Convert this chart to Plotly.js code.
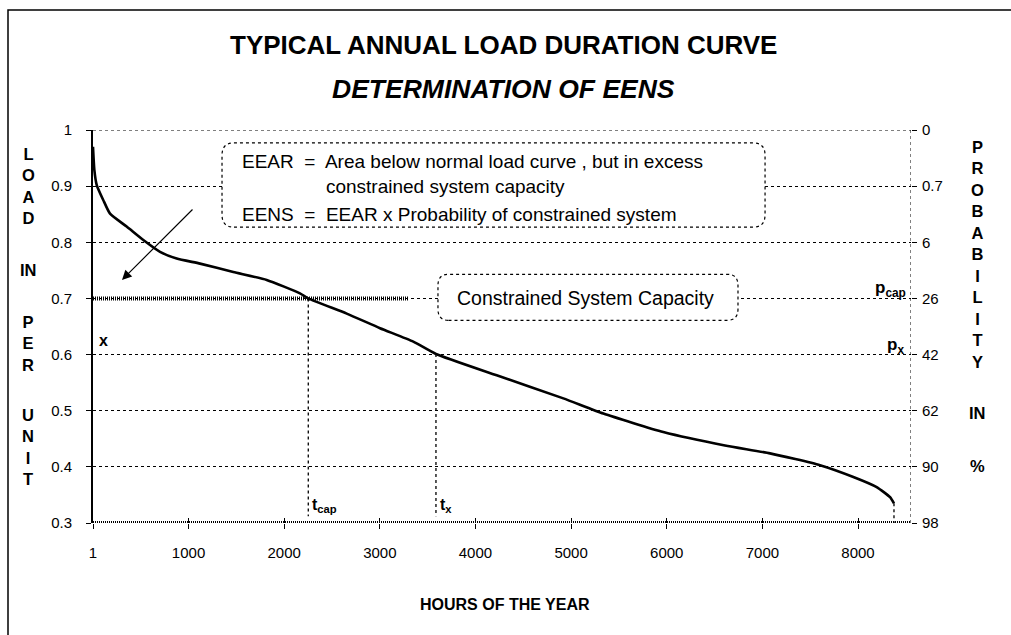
<!DOCTYPE html>
<html>
<head>
<meta charset="utf-8">
<script src="https://cdn.plot.ly/plotly-3.0.1.min.js"></script>
<style>html,body{margin:0;padding:0;background:#fff;}#chart{width:1011px;height:635px;}</style>
</head>
<body>
<div id="chart"></div>
<script>
// ---- data ----
const hours = [1, 15, 40, 109, 179, 353, 527, 702, 876, 1120, 1468, 1817, 2165, 2252, 2654, 3002, 3350, 3587, 4222, 4919, 5337, 5964, 6609, 7080, 7603, 7951, 8195, 8335, 8376];
const load  = [0.97, 0.929, 0.902, 0.875, 0.851, 0.828, 0.804, 0.783, 0.771, 0.762, 0.747, 0.733, 0.709, 0.700, 0.673, 0.647, 0.623, 0.601, 0.563, 0.522, 0.495, 0.462, 0.438, 0.424, 0.403, 0.382, 0.364, 0.346, 0.335];
const hourTicks = [1, 1000, 2000, 3000, 4000, 5000, 6000, 7000, 8000];
const hourLabels = ['1', '1000', '2000', '3000', '4000', '5000', '6000', '7000', '8000'];
const loadTicks = [0.3, 0.4, 0.5, 0.6, 0.7, 0.8, 0.9, 1.0];
const loadLabels = ['0.3', '0.4', '0.5', '0.6', '0.7', '0.8', '0.9', '1'];
const probLabels = ['98', '90', '62', '42', '26', '6', '0.7', '0'];
const capLoad = 0.7, xLoad = 0.6;
const tCap = 2252, tX = 3587;
const hatchEnd = 3295;
const xMax = 8554;

// ---- geometry helpers (pixels -> paper) ----
const PL = 93, PR = 911, PT = 130, PB = 523;
const fx = p => (p - PL) / (PR - PL);
const fy = p => (PB - p) / (PB - PT);
const FONT = 'Liberation Sans, Arial, sans-serif';

function rr(x0, x1, y0, y1, rx, ry) {
  return `M ${x0 + rx},${y0} L ${x1 - rx},${y0} Q ${x1},${y0} ${x1},${y0 + ry} L ${x1},${y1 - ry} Q ${x1},${y1} ${x1 - rx},${y1} L ${x0 + rx},${y1} Q ${x0},${y1} ${x0},${y1 - ry} L ${x0},${y0 + ry} Q ${x0},${y0} ${x0 + rx},${y0} Z`;
}

const traces = [
  { x: hours, y: load, type: 'scatter', mode: 'lines', line: { color: '#000', width: 2.6, shape: 'spline', smoothing: 0.5 }, hoverinfo: 'skip', showlegend: false },
  { x: [1], y: [0.3], xaxis: 'x2', yaxis: 'y', mode: 'markers', opacity: 0, hoverinfo: 'skip', showlegend: false },
  { x: [1], y: [0.3], xaxis: 'x', yaxis: 'y2', mode: 'markers', opacity: 0, hoverinfo: 'skip', showlegend: false }
];

const lastX = hours[hours.length - 1], lastY = load[load.length - 1];
const tcapY = load[hours.indexOf(tCap)], txY = load[hours.indexOf(tX)];

const shapes = [
  { type: 'line', xref: 'x', yref: 'y', x0: 1, x1: xMax, y0: 1, y1: 1, line: { color: '#000', width: 1, dash: 'dot' } },
  { type: 'line', xref: 'x', yref: 'y', x0: xMax, x1: xMax, y0: 0.3, y1: 1, line: { color: '#000', width: 1, dash: 'dot' } },
  { type: 'line', xref: 'x', yref: 'y', x0: 1, x1: xMax, y0: 0.3, y1: 0.3, line: { color: '#000', width: 4, dash: '1px,1px' } },
  { type: 'line', xref: 'x', yref: 'y', x0: 1, x1: hatchEnd, y0: capLoad, y1: capLoad, line: { color: '#000', width: 4, dash: '1px,1px' } },
  { type: 'line', xref: 'x', yref: 'y', x0: tCap, x1: tCap, y0: tcapY, y1: 0.312, line: { color: '#000', width: 1.3, dash: 'dot' } },
  { type: 'line', xref: 'x', yref: 'y', x0: tX, x1: tX, y0: txY, y1: 0.312, line: { color: '#000', width: 1.3, dash: 'dot' } },
  { type: 'line', xref: 'x', yref: 'y', x0: lastX, x1: lastX, y0: lastY, y1: 0.3, line: { color: '#000', width: 1.3, dash: 'dot' } },
  { type: 'path', xref: 'x', yref: 'y', layer: 'above', path: rr(1350, 7028, 0.827, 0.977, 125, 0.022), fillcolor: '#fff', line: { color: '#000', width: 1.2, dash: 'dot' } },
  { type: 'path', xref: 'x', yref: 'y', layer: 'above', path: rr(3608, 6745, 0.661, 0.743, 110, 0.02), fillcolor: '#fff', line: { color: '#000', width: 1.2, dash: 'dot' } },
  { type: 'rect', xref: 'paper', yref: 'paper', x0: fx(8), x1: fx(1020), y0: fy(645), y1: fy(10), line: { color: '#000', width: 1.5 }, fillcolor: 'rgba(0,0,0,0)' }
];

function ann(text, px, py, size, opts) {
  return Object.assign({ text: text, xref: 'paper', yref: 'paper', x: fx(px), y: fy(py), showarrow: false,
    xanchor: 'center', yanchor: 'middle', font: { family: FONT, size: size, color: '#000' } }, opts || {});
}

const eearText = 'EEAR  =  Area below normal load curve , but in excess<br>' +
  '<span style="color:rgba(0,0,0,0)">EEAR  =  </span>constrained system capacity';

const annotations = [
  ann('<b>TYPICAL ANNUAL LOAD DURATION CURVE</b>', 504, 45, 26),
  ann('<b><i>DETERMINATION OF EENS</i></b>', 504, 89, 26.5),
  ann('<b>HOURS OF THE YEAR</b>', 505, 604, 16),
  ann('<b>L<br>O<br>A<br>D</b>', 28, 186, 16.5),
  ann('<b>IN</b>', 28, 270, 16.5),
  ann('<b>P<br>E<br>R</b>', 28, 343, 16.5),
  ann('<b>U<br>N<br>I<br>T</b>', 28, 447, 16.5),
  ann('<b>P<br>R<br>O<br>B<br>A<br>B<br>I<br>L<br>I<br>T<br>Y</b>', 978, 254, 16.5),
  ann('<b>IN</b>', 978, 413, 16.5),
  ann('<b>%</b>', 978, 466, 16.5),
  ann(eearText, 240, 174, 19, { xanchor: 'left', align: 'left' }),
  ann('EENS  =  EEAR x Probability of constrained system', 240, 214, 19, { xanchor: 'left' }),
  ann('Constrained System Capacity', 585, 298, 19.5),
  ann('<b>x</b>', 97, 340, 16, { xanchor: 'left' }),
  ann('<b>p<sub>cap</sub></b>', 908, 289, 17, { xanchor: 'right' }),
  ann('<b>p<sub>x</sub></b>', 906, 346, 17, { xanchor: 'right' }),
  ann('<b>t<sub>cap</sub></b>', 310, 505, 16, { xanchor: 'left' }),
  ann('<b>t<sub>x</sub></b>', 438, 505, 16, { xanchor: 'left' }),
  { text: '', xref: 'x', yref: 'y', axref: 'x', ayref: 'y', x: 304, y: 0.733, ax: 1057, ay: 0.861,
    showarrow: true, arrowhead: 2, arrowsize: 1.6, arrowwidth: 1.2, arrowcolor: '#000' }
];

const layout = {
  width: 1011, height: 635,
  margin: { l: PL, r: 1011 - PR, t: PT, b: 635 - PB, pad: 0 },
  paper_bgcolor: '#fff', plot_bgcolor: '#fff',
  showlegend: false,
  font: { family: FONT, size: 15, color: '#000' },
  xaxis: { range: [1, xMax], tickvals: hourTicks, ticktext: hourLabels, showgrid: false, zeroline: false, showline: false,
    ticks: 'outside', ticklen: 5, tickcolor: '#000', tickwidth: 1, ticklabelstandoff: 11, tickfont: { family: FONT, size: 15 } },
  xaxis2: { overlaying: 'x', range: [1, xMax], tickvals: hourTicks, showticklabels: false, showgrid: false, zeroline: false,
    showline: false, ticks: 'inside', ticklen: 5, tickcolor: '#000', anchor: 'y' },
  yaxis: { range: [0.3, 1], tickvals: loadTicks, ticktext: loadLabels, showgrid: true, gridcolor: '#000', gridwidth: 1, griddash: 'dot',
    zeroline: false, showline: true, linecolor: '#000', linewidth: 2, ticks: 'outside', ticklen: 5, tickcolor: '#000',
    ticklabelstandoff: 11, tickfont: { family: FONT, size: 15 } },
  yaxis2: { overlaying: 'y', side: 'right', range: [0.3, 1], tickvals: loadTicks, ticktext: probLabels, showgrid: false,
    zeroline: false, showline: false, ticks: 'outside', ticklen: 5, tickcolor: '#000', ticklabelstandoff: 2,
    tickfont: { family: FONT, size: 15 } },
  shapes: shapes,
  annotations: annotations
};

Plotly.newPlot('chart', traces, layout, { staticPlot: true, displayModeBar: false });
</script>
</body>
</html>
